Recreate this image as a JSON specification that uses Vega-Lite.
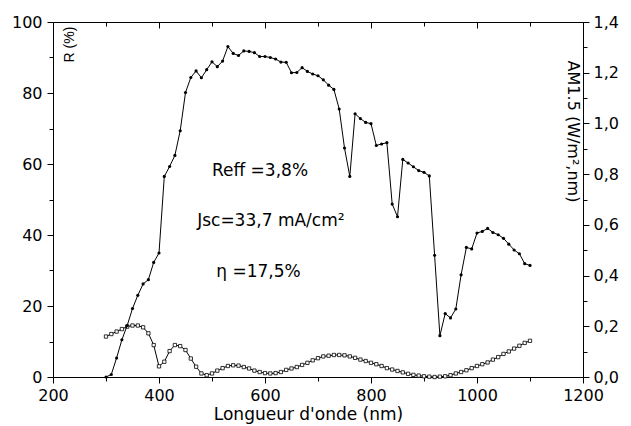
{
  "$schema": "https://vega.github.io/schema/vega-lite/v6.json",
  "width": 530,
  "height": 355,
  "autosize": {"type": "none"},
  "padding": {"left": 53, "top": 22, "right": 48, "bottom": 49},
  "background": "white",
  "config": {
    "view": {"stroke": null},
    "font": "DejaVu Sans",
    "axis": {
      "domainColor": "black", "tickColor": "black", "labelColor": "black", "titleColor": "black",
      "labelFont": "DejaVu Sans", "titleFont": "DejaVu Sans",
      "labelFontSize": 16, "titleFontSize": 17, "titleFontWeight": "normal",
      "grid": false, "domainWidth": 1, "tickWidth": 1
    }
  },
  "datasets": {
    "refl": [
      {"nm":300,"R":11.4},{"nm":310,"R":12.1},{"nm":320,"R":12.8},{"nm":330,"R":13.5},{"nm":340,"R":14.2},
      {"nm":350,"R":14.5},{"nm":360,"R":14.5},{"nm":370,"R":14.0},{"nm":380,"R":12.3},{"nm":390,"R":9.0},
      {"nm":400,"R":3.0},{"nm":410,"R":4.3},{"nm":420,"R":7.3},{"nm":430,"R":9.0},{"nm":440,"R":8.7},
      {"nm":450,"R":7.6},{"nm":460,"R":5.2},{"nm":470,"R":2.9},{"nm":480,"R":1.0},{"nm":490,"R":0.5},
      {"nm":500,"R":1.0},{"nm":510,"R":1.8},{"nm":520,"R":2.5},{"nm":530,"R":3.1},{"nm":540,"R":3.3},
      {"nm":550,"R":3.2},{"nm":560,"R":2.8},{"nm":570,"R":2.4},{"nm":580,"R":1.8},{"nm":590,"R":1.4},
      {"nm":600,"R":1.1},{"nm":610,"R":1.0},{"nm":620,"R":1.1},{"nm":630,"R":1.4},{"nm":640,"R":2.0},
      {"nm":650,"R":2.4},{"nm":660,"R":2.8},{"nm":670,"R":3.4},{"nm":680,"R":4.0},{"nm":690,"R":4.7},
      {"nm":700,"R":5.3},{"nm":710,"R":5.8},{"nm":720,"R":6.0},{"nm":730,"R":6.2},{"nm":740,"R":6.2},
      {"nm":750,"R":6.1},{"nm":760,"R":5.8},{"nm":770,"R":5.4},{"nm":780,"R":4.9},{"nm":790,"R":4.5},
      {"nm":800,"R":4.0},{"nm":810,"R":3.6},{"nm":820,"R":3.1},{"nm":830,"R":2.5},{"nm":840,"R":2.1},
      {"nm":850,"R":1.7},{"nm":860,"R":1.3},{"nm":870,"R":0.9},{"nm":880,"R":0.6},{"nm":890,"R":0.4},
      {"nm":900,"R":0.2},{"nm":910,"R":0.1},{"nm":920,"R":0.0},{"nm":930,"R":0.1},{"nm":940,"R":0.2},
      {"nm":950,"R":0.5},{"nm":960,"R":1.0},{"nm":970,"R":1.4},{"nm":980,"R":1.9},{"nm":990,"R":2.5},
      {"nm":1000,"R":3.1},{"nm":1010,"R":3.6},{"nm":1020,"R":4.1},{"nm":1030,"R":4.9},{"nm":1040,"R":5.6},
      {"nm":1050,"R":6.5},{"nm":1060,"R":7.2},{"nm":1070,"R":8.0},{"nm":1080,"R":8.8},{"nm":1090,"R":9.6},
      {"nm":1100,"R":10.2}
    ],
    "am": [
      {"nm":300,"E":0.0},{"nm":310,"E":0.01},{"nm":320,"E":0.075},{"nm":330,"E":0.147},{"nm":340,"E":0.203},
      {"nm":350,"E":0.27},{"nm":360,"E":0.322},{"nm":370,"E":0.367},{"nm":380,"E":0.384},{"nm":390,"E":0.452},
      {"nm":400,"E":0.489},{"nm":410,"E":0.791},{"nm":420,"E":0.83},{"nm":430,"E":0.874},{"nm":440,"E":0.971},
      {"nm":450,"E":1.122},{"nm":460,"E":1.181},{"nm":470,"E":1.207},{"nm":480,"E":1.18},{"nm":490,"E":1.212},
      {"nm":500,"E":1.243},{"nm":510,"E":1.224},{"nm":520,"E":1.246},{"nm":530,"E":1.303},{"nm":540,"E":1.276},
      {"nm":550,"E":1.268},{"nm":560,"E":1.286},{"nm":570,"E":1.284},{"nm":580,"E":1.279},{"nm":590,"E":1.264},
      {"nm":600,"E":1.264},{"nm":610,"E":1.26},{"nm":620,"E":1.254},{"nm":630,"E":1.242},{"nm":640,"E":1.241},
      {"nm":650,"E":1.2},{"nm":660,"E":1.201},{"nm":670,"E":1.22},{"nm":680,"E":1.205},{"nm":690,"E":1.195},
      {"nm":700,"E":1.188},{"nm":710,"E":1.172},{"nm":720,"E":1.151},{"nm":730,"E":1.134},{"nm":740,"E":1.057},
      {"nm":750,"E":0.903},{"nm":760,"E":0.791},{"nm":770,"E":1.038},{"nm":780,"E":1.019},{"nm":790,"E":1.004},
      {"nm":800,"E":0.999},{"nm":810,"E":0.913},{"nm":820,"E":0.919},{"nm":830,"E":0.924},{"nm":840,"E":0.682},
      {"nm":850,"E":0.632},{"nm":860,"E":0.858},{"nm":870,"E":0.844},{"nm":880,"E":0.829},{"nm":890,"E":0.814},
      {"nm":900,"E":0.807},{"nm":910,"E":0.793},{"nm":920,"E":0.48},{"nm":930,"E":0.163},{"nm":940,"E":0.25},
      {"nm":950,"E":0.233},{"nm":960,"E":0.268},{"nm":970,"E":0.403},{"nm":980,"E":0.511},{"nm":990,"E":0.505},
      {"nm":1000,"E":0.568},{"nm":1010,"E":0.574},{"nm":1020,"E":0.586},{"nm":1030,"E":0.57},{"nm":1040,"E":0.561},
      {"nm":1050,"E":0.547},{"nm":1060,"E":0.524},{"nm":1070,"E":0.501},{"nm":1080,"E":0.486},{"nm":1090,"E":0.447},
      {"nm":1100,"E":0.44}
    ],
    "notes": [
      {"nm":500,"R":56.5,"label":"Reff =3,8%"},
      {"nm":472,"R":42.4,"label":"Jsc=33,7 mA/cm²"},
      {"nm":508,"R":28.3,"label":"η =17,5%"}
    ]
  },
  "layer": [
    {
      "data": {"name": "refl"},
      "mark": {"type": "line", "color": "black", "strokeWidth": 1},
      "encoding": {
        "x": {"field": "nm", "type": "quantitative", "scale": {"domain": [200, 1200], "nice": false},
          "axis": {"orient": "bottom", "title": "Longueur d'onde (nm)",
            "values": [200,300,400,500,600,700,800,900,1000,1100,1200],
            "format": "d",
            "labelExpr": "datum.value % 200 == 0 ? datum.label : ''",
            "tickSize": {"condition": {"test": "datum.value % 200 == 0", "value": 6}, "value": 4},
            "labelPadding": 4, "labelFlush": false, "labelOverlap": false,
            "titleX": 255, "titleY": 42, "titleAlign": "center", "titleBaseline": "alphabetic"}},
        "y": {"field": "R", "type": "quantitative", "scale": {"domain": [0, 100], "nice": false},
          "axis": {"orient": "left", "title": "R (%)",
            "values": [0,10,20,30,40,50,60,70,80,90,100],
            "labelExpr": "datum.value % 20 == 0 ? datum.label : ''",
            "tickSize": {"condition": {"test": "datum.value % 20 == 0", "value": 6}, "value": 4},
            "labelPadding": 5, "labelFlush": false, "labelOverlap": false,
            "titleFont": "Liberation Sans", "titleFontSize": 14,
            "titleX": 20, "titleY": 22, "titleAngle": 270, "titleAlign": "center", "titleBaseline": "alphabetic"}}
      }
    },
    {
      "data": {"name": "refl"},
      "mark": {"type": "point", "shape": "square", "filled": true, "fill": "white", "stroke": "black", "strokeWidth": 0.8, "size": 11, "opacity": 1},
      "encoding": {
        "x": {"field": "nm", "type": "quantitative", "axis": null},
        "y": {"field": "R", "type": "quantitative", "scale": {"domain": [0, 100], "nice": false}, "axis": null}
      }
    },
    {
      "data": {"name": "notes"},
      "mark": {"type": "text", "align": "left", "baseline": "alphabetic", "fontSize": 17, "font": "DejaVu Sans", "color": "black"},
      "encoding": {
        "x": {"field": "nm", "type": "quantitative", "axis": null},
        "y": {"field": "R", "type": "quantitative", "scale": {"domain": [0, 100], "nice": false}, "axis": null},
        "text": {"field": "label"}
      }
    },
    {
      "data": {"name": "am"},
      "mark": {"type": "line", "color": "black", "strokeWidth": 1},
      "encoding": {
        "x": {"field": "nm", "type": "quantitative",
          "axis": {"orient": "top", "title": null, "labels": false,
            "values": [200,300,400,500,600,700,800,900,1000,1100,1200],
            "tickSize": {"condition": {"test": "datum.value % 200 == 0", "value": -6}, "value": -4}}},
        "y": {"field": "E", "type": "quantitative", "scale": {"domain": [0, 1.4], "nice": false},
          "axis": {"orient": "right", "title": "AM1.5 (W/m²,nm)",
            "values": [0,0.1,0.2,0.3,0.4,0.5,0.6,0.7,0.8,0.9,1.0,1.1,1.2,1.3,1.4],
            "labelExpr": "round(datum.value*10) % 2 == 0 ? replace(format(datum.value, '.1f'), '.', ',') : ''",
            "tickSize": {"condition": {"test": "round(datum.value*10) % 2 == 0", "value": 6}, "value": 4},
            "labelPadding": 4, "labelFlush": false, "labelOverlap": false,
            "titleFontSize": 16,
            "titleX": -16, "titleY": 109, "titleAngle": 90, "titleAlign": "center", "titleBaseline": "alphabetic"}}
      }
    },
    {
      "data": {"name": "am"},
      "mark": {"type": "point", "shape": "circle", "filled": true, "color": "black", "size": 10, "opacity": 1},
      "encoding": {
        "x": {"field": "nm", "type": "quantitative", "axis": null},
        "y": {"field": "E", "type": "quantitative", "scale": {"domain": [0, 1.4], "nice": false}, "axis": null}
      }
    }
  ],
  "resolve": {"scale": {"y": "independent"}}
}
